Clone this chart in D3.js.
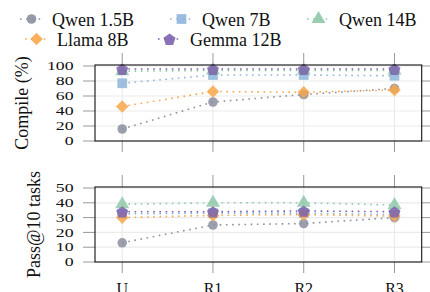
<!DOCTYPE html>
<html>
<head>
<meta charset="utf-8">
<script src="https://cdn.jsdelivr.net/npm/d3@7"></script>
</head>
<body style="margin:0">
<script>
var stages = ["U", "R1", "R2", "R3"];
var models = ["Qwen 1.5B", "Qwen 7B", "Qwen 14B", "Llama 8B", "Gemma 12B"];
var colors = ["#8b8f9e", "#8fb5da", "#8fc9a9", "#f8a84c", "#7c63ad"];
var shapes = ["circle", "square", "triangle", "diamond", "pentagon"];

// compile rate (%) per model, U R1 R2 R3
var compile = [
  [16, 52, 62, 70],
  [77, 88, 88, 87],
  [93, 94, 94, 94],
  [46, 66, 65, 68],
  [96, 96, 96, 96]
];
// pass@10 tasks per model
var pass10 = [
  [13, 25, 26, 30],
  [32.5, 33, 33, 32],
  [39, 40, 40, 38.5],
  [30, 31.5, 32, 31],
  [34, 34, 34.5, 34]
];
var compileTicks = [0, 20, 40, 60, 80, 100];
var passTicks = [0, 10, 20, 30, 40, 50];

var width = 430, height = 292,
  left = 95, right = 421.7,
  serif = "'Liberation Serif'";

var svg = d3.select("body").append("svg")
  .attr("width", width)
  .attr("height", height);

var x = d3.scalePoint().domain(stages).range([left, right]).padding(0.3);

function symbolPath(shape) {
  if (shape == "pentagon") {
    var r = 6.3, pts = [];
    for (var i = 0; i < 5; i++) {
      var a = -Math.PI / 2 + i * 2 * Math.PI / 5;
      pts.push([r * Math.cos(a), r * Math.sin(a) + 0.8]);
    }
    return "M" + pts.join("L") + "Z";
  }
  if (shape == "diamond") {
    var s = 6.3;
    return "M0," + (-s) + "L" + s + ",0L0," + s + "L" + (-s) + ",0Z";
  }
  var t = { circle: [d3.symbolCircle, 72], square: [d3.symbolSquare, 95],
    triangle: [d3.symbolTriangle, 85] }[shape];
  return d3.symbol().type(t[0]).size(t[1])();
}

// one text helper so every label gets the same font handling
function label(sel, size) {
  return sel.style("font-family", serif)
    .attr("font-size", size)
    .attr("fill", "#111");
}

function panel(values, ticks, top, bottom, ymax, title, titleX) {
  var y = d3.scaleLinear().domain([0, ymax]).range([bottom, top + 1]);
  var g = svg.append("g");

  // grid
  g.selectAll(".hg").data(ticks).enter().append("line")
    .attr("x1", left).attr("x2", right)
    .attr("y1", function(d){ return y(d) }).attr("y2", function(d){ return y(d) })
    .attr("stroke", "#ebebeb").attr("stroke-width", 1.2);
  g.selectAll(".vg").data(stages).enter().append("line")
    .attr("x1", function(d){ return x(d) }).attr("x2", function(d){ return x(d) })
    .attr("y1", top).attr("y2", bottom)
    .attr("stroke", "#ebebeb").attr("stroke-width", 1.2);

  // outward ticks on all four sides
  var tl = 12;
  g.selectAll(".lt").data(ticks).enter().append("line")
    .attr("x1", left - tl).attr("x2", left)
    .attr("y1", function(d){ return y(d) }).attr("y2", function(d){ return y(d) })
    .attr("stroke", "#999");
  g.selectAll(".rt").data(ticks).enter().append("line")
    .attr("x1", right).attr("x2", right + tl)
    .attr("y1", function(d){ return y(d) }).attr("y2", function(d){ return y(d) })
    .attr("stroke", "#999");
  g.selectAll(".tt").data(stages).enter().append("line")
    .attr("x1", function(d){ return x(d) }).attr("x2", function(d){ return x(d) })
    .attr("y1", top - tl).attr("y2", top)
    .attr("stroke", "#999");
  g.selectAll(".bt").data(stages).enter().append("line")
    .attr("x1", function(d){ return x(d) }).attr("x2", function(d){ return x(d) })
    .attr("y1", bottom).attr("y2", bottom + tl - 1)
    .attr("stroke", "#999");

  // tick labels, horizontally widened like the original numerals
  g.selectAll(".yl").data(ticks).enter().append("text")
    .attr("transform", function(d){ return "translate(73.5," + (y(d) + 4.2) + ") scale(1.42,1)" })
    .attr("text-anchor", "end")
    .call(label, 12.5)
    .text(function(d){ return d });

  g.append("text")
    .attr("transform", "translate(" + titleX + "," + ((top + bottom) / 2) + ") rotate(-90)")
    .attr("text-anchor", "middle")
    .call(label, 18)
    .text(title);

  // series
  values.forEach(function(vals, i) {
    var line = d3.line()
      .x(function(d, j){ return x(stages[j]) })
      .y(function(d){ return y(d) });
    g.append("path")
      .attr("d", line(vals))
      .attr("fill", "none")
      .attr("stroke", colors[i])
      .attr("stroke-width", 1.6)
      .attr("stroke-dasharray", "1.6,4.6");
  });
  values.forEach(function(vals, i) {
    g.selectAll(".m" + i).data(vals).enter().append("path")
      .attr("d", symbolPath(shapes[i]))
      .attr("transform", function(d, j){ return "translate(" + x(stages[j]) + "," + y(d) + ")" })
      .attr("fill", colors[i])
      .attr("fill-opacity", 0.85);
  });

  // frame
  g.append("rect")
    .attr("x", left).attr("y", top)
    .attr("width", right - left).attr("height", bottom - top)
    .attr("fill", "none").attr("stroke", "#111").attr("stroke-width", 1.1);
  return y;
}

panel(compile, compileTicks, 65, 141, 100, "Compile (%)", 28);
panel(pass10, passTicks, 187, 262, 50, "Pass@10 tasks", 40);

// x labels
svg.selectAll(".xl").data(stages).enter().append("text")
  .attr("x", function(d){ return x(d) })
  .attr("y", 294)
  .attr("text-anchor", "middle")
  .call(label, 16)
  .text(function(d){ return d });

// legend (two rows)
var legendPos = [[20, 19], [170, 19], [307, 19], [25, 39], [158, 39]];
models.forEach(function(m, i) {
  var p = legendPos[i], lg = svg.append("g").attr("transform", "translate(" + p[0] + "," + p[1] + ")");
  lg.append("line")
    .attr("x1", 0).attr("x2", 23).attr("y1", 0).attr("y2", 0)
    .attr("stroke", colors[i]).attr("stroke-width", 1.6)
    .attr("stroke-dasharray", "1.6,4.6");
  lg.append("path")
    .attr("d", symbolPath(shapes[i]))
    .attr("transform", "translate(11.5,0)")
    .attr("fill", colors[i]).attr("fill-opacity", 0.9);
  lg.append("text")
    .attr("x", 32).attr("y", 6.5)
    .call(label, 18)
    .text(m);
});
</script>
</body>
</html>
